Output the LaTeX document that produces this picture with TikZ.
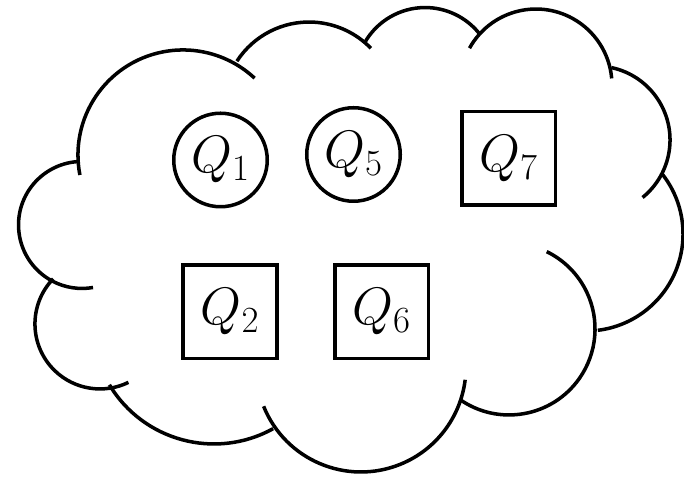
\documentclass[tikz,border=0pt]{standalone}
\usepackage{fix-cm}

\def \lineWidth {2pt}
\def \nodeSize {1.87cm}

\tikzset{
  qcircle/.style={circle, draw, line width=\lineWidth, minimum size=\nodeSize, inner sep=0pt, font=\fontsize{30}{36}\selectfont},
  qbox/.style={rectangle, draw, line width=\lineWidth, minimum size=\nodeSize, inner sep=0pt, font=\fontsize{30}{36}\selectfont}
}

\begin{document}
\begin{tikzpicture}[line width=\lineWidth]
         \useasboundingbox (0, 0) rectangle (13.68, 9.54);

         % Đám mây: mỗi chỗ phồng là một cung tròn
         \draw (1.598, 6.04) arc (191:47:2.1);
         \draw (4.738, 8.316) arc (147:44:1.72);
         \draw (7.298, 8.694) arc (150:39:1.39);
         \draw (9.39, 8.576) arc (151:5:1.52);
         \draw (12.228, 8.188) arc (78:-51:1.48);
         \draw (13.228, 6.08) arc (39:-83:1.94);
         \draw (9.194, 1.552) arc (235:424:1.72);
         \draw (5.272, 1.414) arc (202:353:2.1);
         \draw (2.188, 1.844) arc (211:299:2.44);
         \draw (1.064, 3.964) arc (136:296:1.3);
         \draw (1.596, 6.31) arc (92:280:1.27);

         % Các nút bên trong
         \node[qcircle] (q1) at (4.41, 6.34) {$Q_1$};
         \node[qcircle] (q5) at (7.07, 6.45) {$Q_5$};
         \node[qbox] (q7) at (10.174, 6.374) {$Q_7$};
         \node[qbox] (q2) at (4.6, 3.306) {$Q_2$};
         \node[qbox] (q6) at (7.634, 3.306) {$Q_6$};
\end{tikzpicture}
\end{document}
